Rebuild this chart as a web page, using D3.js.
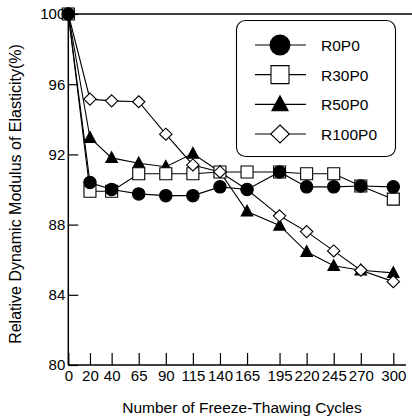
<!DOCTYPE html>
<html>
<head>
<meta charset="utf-8">
<script src="https://cdn.jsdelivr.net/npm/d3@7"></script>
<style>
  body { margin: 0; background: #fff; }
  svg { display: block; font-family: "Liberation Sans", Arial, Helvetica, sans-serif; }
</style>
</head>
<body>
<div id="chart"></div>
<script>
"use strict";
let width = 412;
let height = 417;

// data
let cycles = [0, 20, 40, 65, 90, 115, 140, 165, 195, 220, 245, 270, 300];
let r0p0   = [100, 90.4, 90.0, 89.75, 89.65, 89.65, 90.15, 90.0, 91.0, 90.15, 90.15, 90.2, 90.15];
let r30p0  = [100, 89.9, 89.9, 90.9, 90.9, 90.9, 91.0, 91.0, 91.0, 90.9, 90.9, 90.2, 89.45];
let r50p0  = [100, 92.95, 91.8, 91.5, 91.3, 92.05, 91.0, 88.75, 87.95, 86.45, 85.65, 85.4, 85.25];
let r100p0 = [100, 95.15, 95.05, 95.0, 93.15, 91.4, 91.0, 90.0, 88.5, 87.6, 86.5, 85.4, 84.75];
let seriesNames = ["R0P0", "R30P0", "R50P0", "R100P0"];
let yTicks = [80, 84, 88, 92, 96, 100];

let series = [
  {name: "R0P0", values: r0p0, shape: "circle"},
  {name: "R30P0", values: r30p0, shape: "square"},
  {name: "R50P0", values: r50p0, shape: "triangle"},
  {name: "R100P0", values: r100p0, shape: "diamond"}
];

let xScale = d3.scaleLinear().domain([0, 300]).range([68.3, 393.3]);
let yScale = d3.scaleLinear().domain([80, 100]).range([365, 14]);

let svg = d3.select("#chart")
  .append("svg")
  .attr("width", width)
  .attr("height", height);

// marker paths, s = scale (1 = plot size)
function markerPath(shape, s) {
  if (shape == "circle") {
    let r = 6.2 * s;
    return "M" + (-r) + ",0A" + r + "," + r + " 0 1,0 " + r + ",0A" + r + "," + r + " 0 1,0 " + (-r) + ",0Z";
  }
  if (shape == "square") {
    let h = 6 * s;
    return "M" + (-h) + "," + (-h) + "H" + h + "V" + h + "H" + (-h) + "Z";
  }
  if (shape == "triangle") {
    let w = 5.8 * s, t = 6.2 * s, b = 4.6 * s;
    return "M0," + (-t) + "L" + w + "," + b + "L" + (-w) + "," + b + "Z";
  }
  let dx = 6.2 * s, dy = 6 * s;
  return "M0," + (-dy) + "L" + dx + ",0L0," + dy + "L" + (-dx) + ",0Z";
}

function markerFill(shape) {
  return (shape == "circle" || shape == "triangle") ? "#000" : "#fff";
}

// axes
let xAxis = d3.axisBottom(xScale).tickValues(cycles).tickSize(-12).tickPadding(2).tickFormat(d3.format("d"));
let yAxis = d3.axisLeft(yScale).tickValues(yTicks).tickSize(-10).tickPadding(4);

let gx = svg.append("g")
  .attr("transform", "translate(0," + yScale(80) + ")")
  .call(xAxis);
gx.select(".domain").remove();
gx.selectAll("line").attr("stroke", "#000").attr("stroke-width", 1.2);
gx.selectAll("text").attr("font-size", "15px").attr("fill", "#000").attr("dy", "0.9em");

let gy = svg.append("g")
  .attr("transform", "translate(" + xScale(0) + ",0)")
  .call(yAxis);
gy.select(".domain").remove();
gy.selectAll("line").attr("stroke", "#000").attr("stroke-width", 1.2);
gy.selectAll("text").attr("font-size", "15px").attr("fill", "#000").attr("x", -3);

// frame lines (left, bottom, top)
svg.append("line")
  .attr("x1", xScale(0)).attr("x2", xScale(0))
  .attr("y1", yScale(100)).attr("y2", yScale(80))
  .attr("stroke", "#000").attr("stroke-width", 1.5);
svg.append("line")
  .attr("x1", xScale(0)).attr("x2", 406)
  .attr("y1", yScale(80)).attr("y2", yScale(80))
  .attr("stroke", "#000").attr("stroke-width", 1.3);
svg.append("line")
  .attr("x1", xScale(0)).attr("x2", 412)
  .attr("y1", yScale(100)).attr("y2", yScale(100))
  .attr("stroke", "#000").attr("stroke-width", 1.3);

// lines
let line = d3.line()
  .x(function(d, i) { return xScale(cycles[i]); })
  .y(function(d) { return yScale(d); });

svg.selectAll(".series-line")
  .data(series)
  .enter()
  .append("path")
  .attr("class", "series-line")
  .attr("d", function(d) { return line(d.values); })
  .attr("fill", "none")
  .attr("stroke", "#000")
  .attr("stroke-width", 1.1);

// markers, drawn in this order so overlaps look like the figure
let drawOrder = [2, 1, 3, 0];
drawOrder.forEach(function(k) {
  let s = series[k];
  svg.append("g")
    .selectAll("path")
    .data(s.values)
    .enter()
    .append("path")
    .attr("transform", function(d, i) { return "translate(" + xScale(cycles[i]) + "," + yScale(d) + ")"; })
    .attr("d", markerPath(s.shape, 1))
    .attr("fill", markerFill(s.shape))
    .attr("stroke", "#000")
    .attr("stroke-width", 1.1);
});

// legend
let legend = svg.append("g");
legend.append("rect")
  .attr("x", 236.5).attr("y", 20.5)
  .attr("width", 159).attr("height", 136)
  .attr("rx", 9).attr("ry", 9)
  .attr("fill", "#fff")
  .attr("stroke", "#000")
  .attr("stroke-width", 1.1);

let legendRowY = d3.scalePoint().domain(seriesNames).range([45, 134]);

let rows = legend.selectAll(".row")
  .data(series)
  .enter()
  .append("g")
  .attr("class", "row")
  .attr("transform", function(d) { return "translate(0," + legendRowY(d.name) + ")"; });

rows.append("line")
  .attr("x1", 255).attr("x2", 306)
  .attr("y1", 0).attr("y2", 0)
  .attr("stroke", "#000").attr("stroke-width", 1.1);

rows.append("path")
  .attr("transform", "translate(280,0)")
  .attr("d", function(d) { return markerPath(d.shape, d.shape == "circle" ? 1.6 : (d.shape == "triangle" ? 1.4 : 1.5)); })
  .attr("fill", function(d) { return markerFill(d.shape); })
  .attr("stroke", "#000")
  .attr("stroke-width", 1.1);

rows.append("text")
  .attr("x", 321)
  .attr("y", 6)
  .attr("font-size", "15.5px")
  .attr("fill", "#000")
  .text(function(d) { return d.name; });

// axis titles
svg.append("text")
  .attr("x", 242)
  .attr("y", 413)
  .attr("text-anchor", "middle")
  .attr("font-size", "15.5px")
  .attr("fill", "#000")
  .text("Number of Freeze-Thawing Cycles");

svg.append("text")
  .attr("transform", "translate(21,194) rotate(-90)")
  .attr("text-anchor", "middle")
  .attr("font-size", "16px")
  .attr("fill", "#000")
  .text("Relative Dynamic Modulus of Elasticity(%)");
</script>
</body>
</html>
